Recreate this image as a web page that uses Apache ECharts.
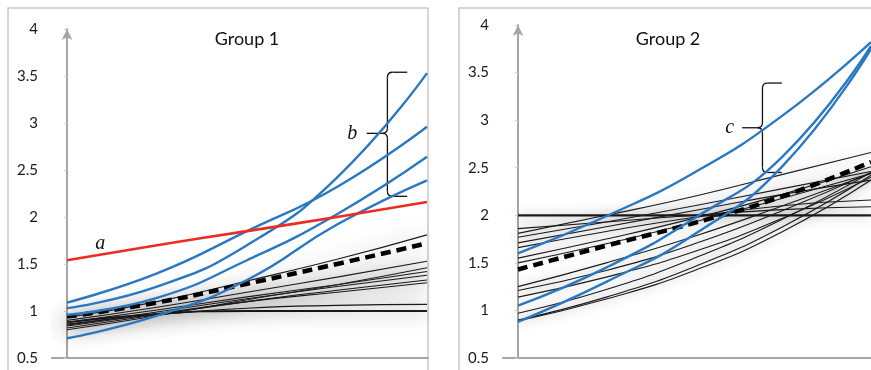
<!DOCTYPE html>
<html>
<head>
<meta charset="utf-8">
<title>Group 1 / Group 2</title>
<script src="https://cdn.jsdelivr.net/npm/echarts@6/dist/echarts.min.js"></script>
<style>
	html, body { margin: 0; padding: 0; background: #fff; }
	#chart { width: 871px; height: 370px; }
</style>
</head>
<body>
<div id="chart"></div>
<script>
	// time points along the x axis (no labels shown)
	const timePoints = [0, 1, 2, 3, 4]
	const panelTitles = ['Group 1', 'Group 2']
	const yMin = 0.5
	const yMax = 4
	const yStep = 0.5

	// Group 1
	const g1Red = [1.54, 1.70, 1.85, 2.00, 2.16]
	const g1Blue1 = [1.09, 1.40, 1.85, 2.32, 2.96]
	const g1Blue2 = [1.03, 1.26, 1.70, 2.42, 3.53]
	const g1Blue3 = [0.96, 1.14, 1.54, 2.03, 2.64]
	const g1Blue4 = [0.71, 0.95, 1.33, 1.92, 2.39]
	const g1Mean = [0.94, 1.09, 1.29, 1.50, 1.72]
	const g1Black = [
		[0.88, 0.97, 1.00, 1.00, 1.00],
		[0.86, 0.96, 1.03, 1.06, 1.07],
		[0.84, 0.97, 1.10, 1.20, 1.30],
		[0.82, 0.96, 1.10, 1.22, 1.33],
		[0.85, 0.99, 1.13, 1.26, 1.38],
		[0.88, 1.01, 1.15, 1.28, 1.42],
		[0.80, 0.95, 1.12, 1.28, 1.46],
		[0.90, 1.04, 1.20, 1.36, 1.53],
		[0.93, 1.10, 1.32, 1.55, 1.81]
	]

	// Group 2
	const g2Blue1 = [1.60, 1.99, 2.45, 3.05, 3.82]
	const g2Blue2 = [1.05, 1.45, 1.97, 2.62, 3.78]
	const g2Blue3 = [0.88, 1.30, 1.80, 2.52, 3.75]
	const g2Mean = [1.43, 1.68, 1.92, 2.20, 2.56]
	const g2Black = [
		[2.00, 2.00, 2.00, 2.00, 2.00],
		[1.86, 1.93, 2.00, 2.06, 2.09],
		[1.81, 2.00, 2.20, 2.43, 2.66],
		[1.77, 1.93, 2.10, 2.28, 2.46],
		[1.71, 1.88, 2.05, 2.22, 2.37],
		[1.66, 1.83, 1.98, 2.10, 2.16],
		[1.55, 1.75, 1.97, 2.22, 2.51],
		[1.50, 1.70, 1.93, 2.18, 2.44],
		[1.25, 1.50, 1.78, 2.10, 2.44],
		[1.21, 1.42, 1.70, 2.05, 2.45],
		[1.14, 1.35, 1.62, 1.97, 2.40],
		[0.97, 1.22, 1.55, 1.96, 2.45],
		[0.90, 1.14, 1.46, 1.88, 2.42],
		[0.89, 1.12, 1.42, 1.83, 2.37]
	]

	// annotation anchors (x in time units, y in values)
	const braceB = { x: 3.56, cuspX: 3.33, hookX: 3.78, top: 3.54, bottom: 2.22, mid: 2.89 }
	const braceC = { x: 2.77, cuspX: 2.54, hookX: 2.99, top: 3.39, bottom: 2.45, mid: 2.92 }

	const blue = '#2b78c2'
	const red = '#ec2b22'
	const axisGray = '#a6a6a6'
	const font = 'Lato, "Open Sans", sans-serif'

	function pairs(vals) {
		return vals.map((v, i) => [timePoints[i], v])
	}

	function line(vals, grid, style) {
		return {
			type: 'line',
			xAxisIndex: grid,
			yAxisIndex: grid,
			data: pairs(vals),
			smooth: 0.5,
			symbol: 'none',
			silent: true,
			lineStyle: style
		}
	}

	const thinBlack = (blur, alpha) => ({
		color: '#1c1c1c',
		width: 1.1,
		shadowBlur: blur,
		shadowColor: 'rgba(0,0,0,' + alpha + ')',
		shadowOffsetY: 0
	})
	const meanStyle = { color: '#000', width: 4.5, type: [10, 6], cap: 'butt' }
	const blueStyle = { color: blue, width: 2.4 }

	let series = []
	g1Black.forEach((d, i) => {
		let s = thinBlack(20, 0.6)
		if (i === 0) s.width = 1.8
		series.push(line(d, 0, s))
	})
	series.push(line(g1Mean, 0, meanStyle))
	;[g1Blue1, g1Blue2, g1Blue3, g1Blue4].forEach(d => series.push(line(d, 0, blueStyle)))
	series.push(line(g1Red, 0, { color: red, width: 2.6 }))

	g2Black.forEach((d, i) => {
		let s = thinBlack(12, 0.35)
		if (i === 0) s.width = 2.2
		series.push(line(d, 1, s))
	})
	series.push(line(g2Mean, 1, meanStyle))
	;[g2Blue1, g2Blue2, g2Blue3].forEach(d => series.push(line(d, 1, blueStyle)))

	function yAxis(grid) {
		return {
			type: 'value',
			gridIndex: grid,
			min: yMin,
			max: yMax,
			interval: yStep,
			axisLine: {
				show: true,
				symbol: ['none', 'arrow'],
				symbolSize: [8, 11],
				lineStyle: { color: axisGray, width: 2 }
			},
			axisTick: { show: true, length: 3, lineStyle: { color: '#d0d0d0' } },
			axisLabel: { color: '#1a1a1a', fontSize: 15, fontFamily: font, margin: 14 },
			splitLine: { show: false }
		}
	}

	function xAxis(grid, min, max) {
		return {
			type: 'value',
			gridIndex: grid,
			min: min,
			max: max,
			axisLine: { show: true, onZero: false, lineStyle: { color: axisGray, width: 2 } },
			axisTick: { show: false },
			axisLabel: { show: false },
			splitLine: { show: false }
		}
	}

	const chart = echarts.init(document.getElementById('chart'))
	chart.setOption({
		animation: false,
		backgroundColor: '#fff',
		grid: [
			{ left: 52, top: 29, width: 376, bottom: 12 },
			{ left: 503, top: 25, right: 0, bottom: 12 }
		],
		xAxis: [xAxis(0, -15 / 90, 4 + 1 / 90), xAxis(1, -15 / 88.25, 4)],
		yAxis: [yAxis(0), yAxis(1)],
		series: series
	})

	// annotations positioned through the axes
	function px(grid, x, y) {
		return chart.convertToPixel({ gridIndex: grid }, [x, y])
	}

	const inkStyle = { stroke: '#111', lineWidth: 1.3, fill: 'none' }

	function seg(x1, y1, x2, y2) {
		return { type: 'line', silent: true, shape: { x1, y1, x2, y2 }, style: inkStyle }
	}
	function corner(x1, y1, cx, cy, x2, y2) {
		return { type: 'bezierCurve', silent: true,
			shape: { x1, y1, cpx1: cx, cpy1: cy, x2, y2 }, style: inkStyle }
	}

	function brace(grid, b) {
		const t = px(grid, b.x, b.top)
		const m = px(grid, b.x, b.mid)
		const bt = px(grid, b.x, b.bottom)
		const hk = px(grid, b.hookX, b.top)[0]
		const cx = px(grid, b.cuspX, b.mid)[0]
		const x = t[0], r = 5
		return [
			seg(hk, t[1], x + r, t[1]),
			corner(x + r, t[1], x, t[1], x, t[1] + r),
			seg(x, t[1] + r, x, m[1] - r),
			corner(x, m[1] - r, x, m[1], x - r, m[1]),
			corner(x - r, m[1], x, m[1], x, m[1] + r),
			seg(x, m[1] + r, x, bt[1] - r),
			corner(x, bt[1] - r, x, bt[1], x + r, bt[1]),
			seg(x + r, bt[1], hk, bt[1]),
			seg(cx, m[1], x - r, m[1])
		]
	}

	function letter(grid, x, y, txt) {
		const p = px(grid, x, y)
		return {
			type: 'text', x: p[0], y: p[1], silent: true,
			style: {
				text: txt, fill: '#111', align: 'center', verticalAlign: 'middle',
				font: 'italic 20px "Liberation Serif", "DejaVu Serif", serif'
			}
		}
	}

	const titleX = [px(0, 2, 4)[0], px(1, 1.7, 4)[0]]

	let graphics = [
		{ type: 'rect', shape: { x: 8, y: 8, width: 420, height: 380 }, silent: true,
			style: { fill: 'none', stroke: '#c9c9c9', lineWidth: 1.5 } },
		{ type: 'rect', shape: { x: 459, y: 8, width: 430, height: 380 }, silent: true,
			style: { fill: 'none', stroke: '#c9c9c9', lineWidth: 1.5 } },
		{ type: 'text', x: titleX[0], y: 39, silent: true,
			style: { text: panelTitles[0], fill: '#111', align: 'center', verticalAlign: 'middle', font: '18px ' + font } },
		{ type: 'text', x: titleX[1], y: 39, silent: true,
			style: { text: panelTitles[1], fill: '#111', align: 'center', verticalAlign: 'middle', font: '18px ' + font } },
		letter(0, 0.37, 1.72, 'a'),
		letter(0, 3.17, 2.89, 'b'),
		letter(1, 2.40, 2.92, 'c')
	]
	graphics = graphics.concat(brace(0, braceB), brace(1, braceC))

	chart.setOption({ graphic: graphics })
</script>
</body>
</html>
